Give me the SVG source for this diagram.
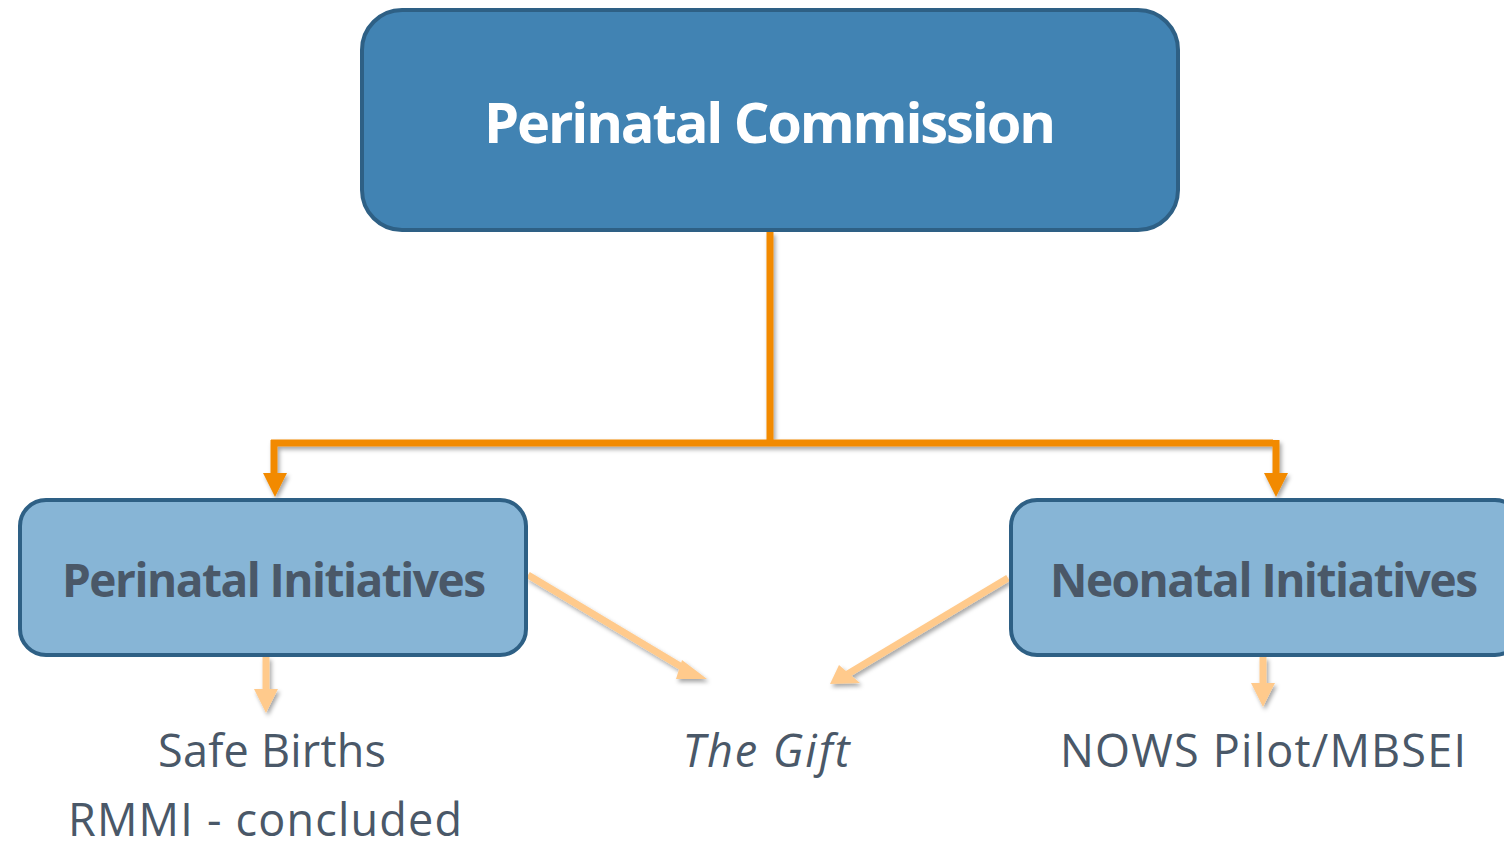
<svg xmlns="http://www.w3.org/2000/svg" width="1504" height="848" viewBox="0 0 1504 848">
<style>
.main{fill:#4183b3;stroke:#2e6085;stroke-width:4}
.sub{fill:#87b5d6;stroke:#2e6085;stroke-width:4}
.t1{font-family:"Open Sans","Liberation Sans",sans-serif;font-weight:bold;fill:#ffffff}
.t2{font-family:"Open Sans","Liberation Sans",sans-serif;font-weight:bold;fill:#4a5868}
.t3{font-family:"Open Sans","Liberation Sans",sans-serif;fill:#4a5868}
.org{stroke:#f28a00;stroke-width:7;fill:none}
.lt{stroke:#ffca8c;stroke-width:7;fill:none}
</style>
<defs>
<filter id="sh" x="-20%" y="-20%" width="140%" height="140%">
<feDropShadow dx="2" dy="3" stdDeviation="2" flood-color="#000" flood-opacity="0.35"/>
</filter>
</defs>
<g id="connectors">
<g filter="url(#sh)">
<path class="org" d="M770,232 V443 M271,443 H1273 M274,440 V475 M1276,440 V475"/>
<polygon points="263,473 287,473 275,497" fill="#f28a00"/>
<polygon points="1264,473 1288,473 1276,497" fill="#f28a00"/>
</g>
<g filter="url(#sh)">
<line class="lt" x1="528" y1="575" x2="690" y2="672"/>
<polygon points="682,660 707,679 676,679" fill="#ffca8c"/>
<line class="lt" x1="1008" y1="578" x2="846" y2="675"/>
<polygon points="839,665 830,684 860,683" fill="#ffca8c"/>
<line class="lt" x1="266" y1="657" x2="266" y2="692"/>
<polygon points="254,689 278,689 266,713" fill="#ffca8c"/>
<line class="lt" x1="1263" y1="657" x2="1263" y2="686"/>
<polygon points="1251,683 1275,683 1263,707" fill="#ffca8c"/>
</g>
</g>
<g id="commission">
<rect class="main" x="362" y="10" width="816" height="220" rx="40"/>
<text class="t1" x="770" y="143" font-size="56" text-anchor="middle" textLength="572">Perinatal Commission</text>
</g>
<g id="perinatal">
<rect class="sub" x="20" y="500" width="506" height="155" rx="26"/>
<text class="t2" x="274" y="597" font-size="46" text-anchor="middle" textLength="424">Perinatal Initiatives</text>
</g>
<g id="neonatal">
<rect class="sub" x="1011" y="500" width="510" height="155" rx="26"/>
<text class="t2" x="1264" y="597" font-size="46" text-anchor="middle" textLength="428">Neonatal Initiatives</text>
</g>
<g id="labels">
<text class="t3" x="272" y="767" font-size="45" text-anchor="middle" textLength="228">Safe Births</text>
<text class="t3" x="265" y="836" font-size="45" text-anchor="middle" textLength="394">RMMI - concluded</text>
<text class="t3" x="766" y="767" font-size="45" font-style="italic" text-anchor="middle" textLength="167">The Gift</text>
<text class="t3" x="1263" y="767" font-size="45" text-anchor="middle" textLength="406">NOWS Pilot/MBSEI</text>
</g>
</svg>
